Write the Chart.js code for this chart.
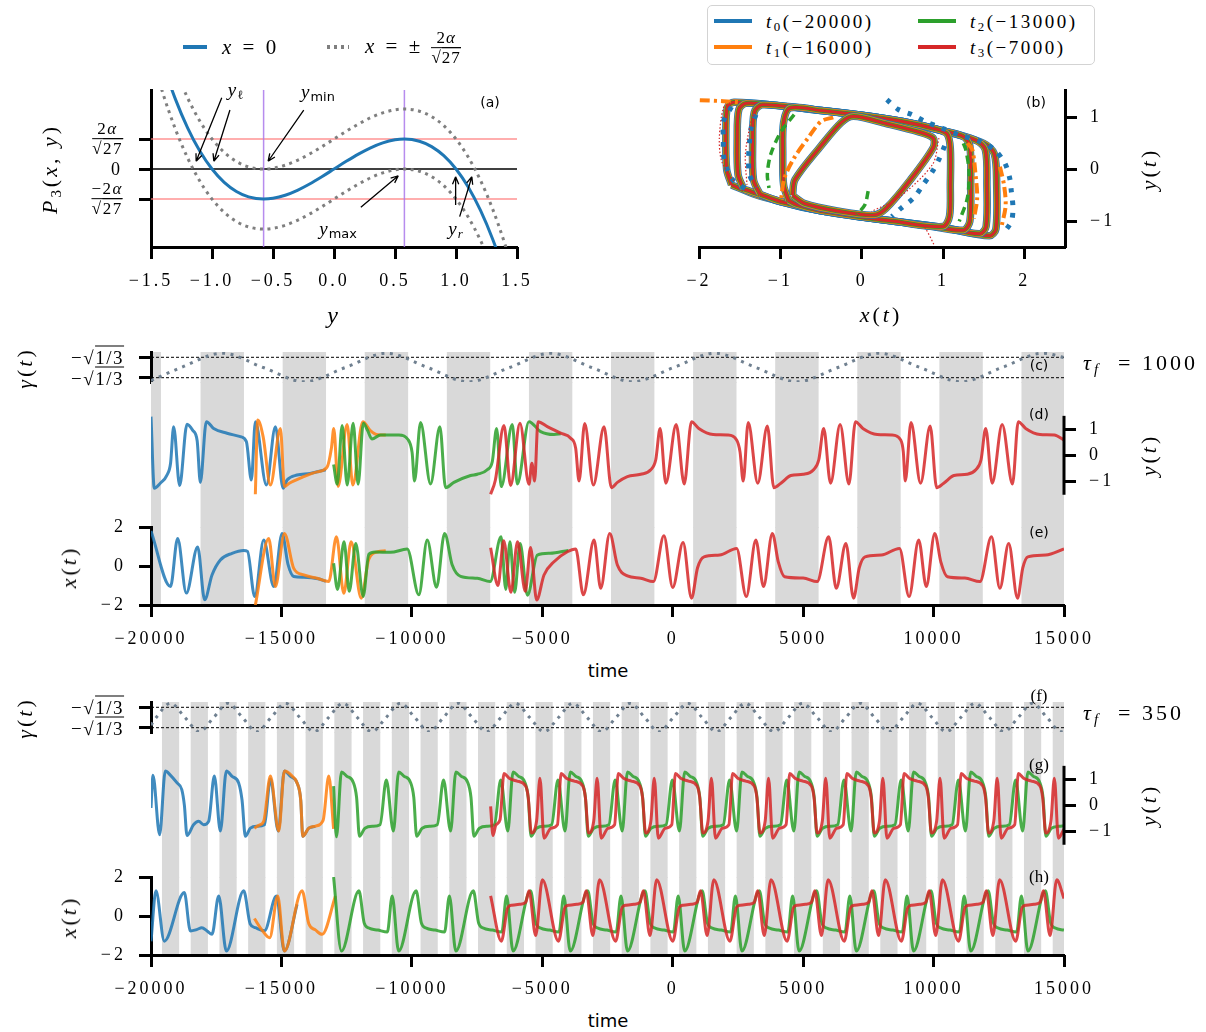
<!DOCTYPE html>
<html>
<head>
<meta charset="utf-8">
<script src="https://cdn.jsdelivr.net/npm/chart.js@4.4.1/dist/chart.umd.min.js"></script>
<style>
  html, body { margin: 0; padding: 0; background: #fff; }
  #fig { position: relative; width: 1206px; height: 1032px; overflow: hidden; font-family: 'DejaVu Sans', sans-serif; }
  #fig canvas { position: absolute; }
  .lbl { position: absolute; white-space: nowrap; line-height: 1; color: #000; }
  .serif { font-family: 'Liberation Serif', 'DejaVu Serif', serif; letter-spacing: 3px; }
  .math { font-family: 'Liberation Serif', 'DejaVu Serif', serif; font-size: 22px; letter-spacing: 3px; }
  .sans { font-family: 'DejaVu Sans', sans-serif; font-size: 14px; }
  .rot { transform: translate(-50%, -50%) rotate(-90deg); }
  .ctr { transform: translate(-50%, -50%); }
  .rgt { transform: translate(-100%, -50%); }
  .lft { transform: translate(0, -50%); }
  .frac { display: inline-flex; flex-direction: column; align-items: center; vertical-align: middle; line-height: 1.05; }
  .frac .den { border-top: 1.3px solid #000; padding-top: 1px; }
  .ovl { border-top: 1.2px solid #000; }
  sub { font-size: 68%; vertical-align: -0.3em; line-height: 0; }
  .legbox { position: absolute; border: 1.5px solid #d3d3d3; border-radius: 5px; background: #fff; }
  .swatch { position: absolute; height: 3.5px; }
  .tick { position: absolute; width: 3px; height: 12px; background: #000; }
</style>
</head>
<body>
<div id="fig"></div>
<script>
// ---------- panel (a): P3(x, y) against y ----------
const aY      = [-1.5,-1.4,-1.3,-1.2,-1.1,-1.0,-0.9,-0.8,-0.7,-0.577,-0.5,-0.4,-0.3,-0.2,-0.1,0,0.1,0.2,0.3,0.4,0.5,0.577,0.7,0.8,0.9,1.0,1.1,1.2,1.3,1.4,1.5];
const aP0     = [1.875,1.344,0.897,0.528,0.231,0,-0.171,-0.288,-0.357,-0.385,-0.375,-0.336,-0.273,-0.192,-0.099,0,0.099,0.192,0.273,0.336,0.375,0.385,0.357,0.288,0.171,0,-0.231,-0.528,-0.897,-1.344,-1.875];
const aPplus  = [2.26,1.729,1.282,0.913,0.616,0.385,0.214,0.097,0.028,0,0.01,0.049,0.112,0.193,0.286,0.385,0.484,0.577,0.658,0.721,0.76,0.77,0.742,0.673,0.556,0.385,0.154,-0.143,-0.512,-0.959,-1.49];
const aPminus = [1.49,0.959,0.512,0.143,-0.154,-0.385,-0.556,-0.673,-0.742,-0.77,-0.76,-0.721,-0.658,-0.577,-0.484,-0.385,-0.286,-0.193,-0.112,-0.049,-0.01,0,-0.028,-0.097,-0.214,-0.385,-0.616,-0.913,-1.282,-1.729,-2.26];
const aLevels = [-0.385, 0.385];
const aExtrema = [-0.577, 0.577];
const aXTicks = [-1.5,-1,-0.5,0,0.5,1,1.5];
const aYTicks = [-0.385, 0, 0.385];
const aArrows = [[-0.92,0.915,-1.13,0.10],[-0.853,0.757,-0.985,0.10],[-0.248,0.757,-0.54,0.10],[0.22,-0.49,0.527,-0.086],[0.997,-0.46,0.997,-0.099],[1.03,-0.61,1.13,-0.099]];

// ---------- panel (b): phase plane ----------
const bLoop1 = [[-0.85,-0.5],[-0.82,-0.2],[-0.5,0.45],[-0.25,0.9],[-0.1,1.02],[0.3,0.88],[0.7,0.72],[0.88,0.6],[0.88,0.42],[0.6,-0.2],[0.3,-0.75],[0.15,-0.88],[-0.3,-0.8],[-0.7,-0.66],[-0.85,-0.5]];
const bLoop2 = [[-0.9,-0.6],[-0.96,-0.3],[-0.97,0.3],[-0.96,0.9],[-0.88,1.18],[-0.5,1.13],[0,1.04],[0.5,0.92],[0.9,0.78],[1.05,0.68],[1.09,0.4],[1.09,-0.3],[1.08,-0.9],[1.0,-1.1],[0.4,-1.0],[0,-0.92],[-0.5,-0.8],[-0.8,-0.68],[-0.9,-0.6]];
const bLoop3 = [[-1.25,-0.48],[-1.33,-0.2],[-1.34,0.5],[-1.32,1.1],[-1.22,1.24],[-0.5,1.13],[0,1.04],[0.5,0.92],[1.0,0.74],[1.25,0.63],[1.33,0.45],[1.34,-0.3],[1.33,-1.0],[1.25,-1.17],[0.8,-1.08],[0,-0.92],[-0.5,-0.8],[-1.0,-0.62],[-1.25,-0.48]];
const bLoop4 = [[-1.45,-0.38],[-1.52,-0.1],[-1.53,0.6],[-1.51,1.15],[-1.42,1.27],[-1.0,1.22],[-0.5,1.13],[0,1.04],[0.5,0.92],[1.0,0.74],[1.4,0.56],[1.52,0.38],[1.54,-0.3],[1.53,-1.1],[1.45,-1.24],[1.0,-1.12],[0.4,-1.0],[-0.5,-0.8],[-1.0,-0.62],[-1.45,-0.38]];
const bLoop5 = [[-1.6,-0.3],[-1.66,0.0],[-1.67,0.7],[-1.65,1.2],[-1.57,1.29],[-1.0,1.22],[0,1.04],[0.5,0.92],[1.0,0.74],[1.5,0.5],[1.63,0.3],[1.66,-0.3],[1.65,-1.15],[1.57,-1.28],[1.0,-1.12],[0.4,-1.0],[-0.5,-0.8],[-1.0,-0.62],[-1.3,-0.49],[-1.6,-0.3]];
const bBlueA = [[0.31,1.34],[0.45,1.15],[0.62,1.05],[0.78,0.92],[0.99,0.79],[1.2,0.66],[1.45,0.54],[1.63,0.38],[1.76,0.12],[1.82,-0.17],[1.84,-0.42],[1.86,-0.74],[1.84,-1.0],[1.73,-1.26]];
const bBlueB = [[1.02,0.45],[0.95,0.19],[0.87,-0.04],[0.74,-0.33],[0.64,-0.55],[0.49,-0.74],[0.37,-0.91]];
const bBlueC = [[-1.6,1.2],[-1.7,0.92],[-1.7,0.6],[-1.7,0.28],[-1.66,0.02],[-1.57,-0.23],[-1.4,-0.4]];
const bBlueD = [[-1.3,1.05],[-1.36,0.79],[-1.38,0.5],[-1.39,0.2],[-1.38,-0.1],[-1.3,-0.35]];
const bOrangeA = [[-1.99,1.33],[-1.7,1.31],[-1.5,1.29]];
const bOrangeB = [[-0.35,1.0],[-0.5,0.92],[-0.66,0.6],[-0.83,0.22],[-0.95,-0.17],[-0.99,-0.56]];
const bOrangeC = [[1.3,0.5],[1.36,0.38],[1.4,-0.1],[1.42,-0.56],[1.38,-0.95]];
const bOrangeD = [[1.7,0.05],[1.75,-0.3],[1.77,-0.7],[1.72,-1.1]];
const bGreenA = [[-0.83,1.05],[-0.99,0.73],[-1.12,0.28],[-1.16,-0.1],[-1.14,-0.36]];
const bGreenB = [[1.25,0.5],[1.28,0.38],[1.32,-0.04],[1.3,-0.55],[1.2,-1.0]];
const bGreenC = [[0.08,-0.42],[0.04,-0.68],[-0.06,-0.87]];
const bRedA = [[-1.62,1.28],[-1.7,1.18],[-1.75,0.6],[-1.72,0.15],[-1.57,-0.23]];
const bRedB = [[-1.3,1.1],[-1.36,0.92],[-1.43,0.28],[-1.41,-0.3]];
const bRedC = [[0.95,0.6],[0.87,0.09],[0.45,-0.55],[0.12,-0.81]];
const bRedD = [[0.7,-1.05],[0.78,-1.13],[0.89,-1.45]];
const bXTicks = [-2,-1,0,1,2];
const bYTicks = [-1,0,1];

// ---------- time panels ----------
const timeTicks = [-20000,-15000,-10000,-5000,0,5000,10000,15000];
const gammaLevels = [-1, 1];
const yTicks = [-1, 0, 1];
const xTicks = [-2, 0, 2];

// tau_f = 1000
const bands1000 = [[-20000,-19618],[-18100,-16437],[-14953,-13290],[-11806,-10143],[-8659,-6996],[-5512,-3849],[-2365,-702],[782,2445],[3929,5592],[7076,8739],[10223,11886],[13370,15033]];
const gamma1000 = [[-20000,-1.28],[-18842,0],[-17269,1.4],[-15695,0],[-14122,-1.4],[-12548,0],[-10975,1.4],[-9401,0],[-7828,-1.4],[-6254,0],[-4681,1.4],[-3107,0],[-1534,-1.4],[40,0],[1614,1.4],[3187,0],[4761,-1.4],[6334,0],[7908,1.4],[9481,0],[11055,-1.4],[12628,0],[14202,1.4],[15000,0.98]];
const y1000Blue = [[-20000,1.47],[-19874,-1.25],[-19644,-1.06],[-19388,-0.75],[-19250,-0.3],[-19132,1.09],[-18902,-1.15],[-18620,1.18],[-18400,0.95],[-18230,0.55],[-18109,-1.03],[-17879,1.28],[-17597,1.02],[-17085,0.84],[-16574,0.71],[-16344,0.52],[-16152,-0.94],[-15999,1.28],[-15577,-1.13],[-15231,1.09],[-14937,-1.25],[-14783,-0.94],[-14400,-0.75],[-13900,-0.69],[-13300,-0.55]];
const y1000Orange = [[-16000,-1.48],[-15909,1.34],[-15700,0.7],[-15423,-1.13],[-15039,1.02],[-14886,-1.19],[-14700,-1.06],[-14144,-0.81],[-13632,-0.63],[-13250,-0.45],[-13080,0.3],[-12993,1.02],[-12827,-1.19],[-12481,1.17],[-12264,-1.13],[-11880,1.28],[-11600,0.95],[-11300,0.78],[-11000,0.77]];
const y1000Green = [[-13000,-0.35],[-12860,-1.1],[-12673,1.13],[-12480,-1.13],[-12250,1.22],[-12060,-1.1],[-11860,1.22],[-11700,0.95],[-11530,0.62],[-11200,0.77],[-10500,0.77],[-10150,0.6],[-9990,0.1],[-9898,-0.98],[-9667,1.25],[-9284,-1.09],[-8926,1.09],[-8708,-1.23],[-8388,-1.03],[-7749,-0.77],[-7492,-0.72],[-7109,-0.55],[-6917,-0.24],[-6751,1.02],[-6572,-1.19],[-6150,1.17],[-5958,-1.09],[-5510,1.28],[-5062,0.9],[-4551,0.79],[-4295,0.82]];
const y1000Red = [[-6981,-1.48],[-6800,-0.95],[-6469,1.13],[-6214,-1.15],[-5855,1.22],[-5510,-1.1],[-5400,-0.3],[-5293,-0.98],[-5165,1.28],[-4807,1.09],[-4295,0.84],[-3912,0.65],[-3720,0.27],[-3592,-0.98],[-3374,1.21],[-3042,-1.13],[-2633,1.09],[-2351,-1.23],[-2121,-1.03],[-1737,-0.81],[-1226,-0.72],[-842,-0.55],[-650,-0.17],[-484,1.02],[-264,-1.06],[133,1.17],[441,-1.09],[720,1.28],[1000,1.02],[1550,0.79],[2100,0.77],[2450,0.58],[2580,0.13],[2703,-0.98],[2894,1.25],[3261,-1.06],[3628,1.11],[3878,-1.23],[4146,-1.06],[4530,-0.77],[5000,-0.72],[5400,-0.55],[5600,-0.17],[5787,1.02],[6051,-1.06],[6418,1.17],[6756,-1.09],[7005,1.28],[7290,1.02],[7840,0.79],[8390,0.77],[8740,0.58],[8840,0.13],[8915,-0.98],[9135,1.25],[9502,-1.06],[9869,1.11],[10119,-1.23],[10390,-1.06],[10780,-0.77],[11280,-0.72],[11620,-0.55],[11820,-0.17],[11998,1.02],[12248,-1.06],[12630,1.17],[13026,-1.09],[13247,1.28],[13530,1.02],[14080,0.79],[14630,0.77],[15000,0.58]];
const x1000Blue = [[-20000,1.8],[-19252,-1.05],[-18979,1.41],[-18646,-1.39],[-18212,0.98],[-17943,-1.73],[-17661,-0.46],[-17341,0.31],[-16894,0.65],[-16447,0.8],[-16300,0.75],[-16025,-1.57],[-15679,1.33],[-15295,-1.05],[-14975,1.67],[-14750,0.1],[-14528,-0.54],[-14144,-0.58],[-13600,-0.65],[-13300,-0.78]];
const x1000Orange = [[-16000,-2.0],[-15487,1.41],[-15231,-1.05],[-14886,1.67],[-14528,-0.12],[-14144,-0.46],[-13632,-0.63],[-13185,-0.8],[-12891,1.5],[-12609,-1.4],[-12327,1.24],[-11944,-1.65],[-11650,0.35],[-11300,0.73],[-11000,0.78]];
const x1000Green = [[-13000,0.14],[-12850,-1.2],[-12600,1.25],[-12400,-1.3],[-12150,1.15],[-11867,-1.56],[-11650,0.6],[-11400,0.72],[-10819,0.7],[-10179,0.87],[-9731,-1.48],[-9411,1.33],[-9053,-1.09],[-8746,1.67],[-8452,0.05],[-8132,-0.53],[-7492,-0.63],[-7000,-0.8],[-6580,1.5],[-6400,-1.2],[-6240,1.25],[-6060,-1.35],[-5850,1.15],[-5570,-1.5],[-5190,0.56],[-4700,0.65],[-4000,0.8]];
const x1000Red = [[-6981,0.94],[-6700,-1.0],[-6480,1.3],[-6200,-1.35],[-5950,1.25],[-5650,-1.3],[-5450,0.95],[-5216,-1.74],[-4934,-0.46],[-4551,0.22],[-4039,0.73],[-3719,0.87],[-3425,-1.48],[-3016,1.33],[-2760,-1.14],[-2415,1.67],[-2121,0.05],[-1737,-0.51],[-1226,-0.63],[-740,-0.8],[-337,1.55],[0,-1.1],[397,1.2],[720,-1.65],[950,-0.1],[1200,0.47],[1800,0.56],[2450,0.9],[2820,-1.57],[3187,1.33],[3481,-1.05],[3819,1.67],[4050,0.2],[4289,-0.55],[5000,-0.62],[5537,-0.8],[5977,1.5],[6271,-1.14],[6638,1.16],[6932,-1.65],[7150,-0.1],[7373,0.47],[8000,0.56],[8694,0.9],[9061,-1.57],[9429,1.33],[9722,-1.05],[10045,1.67],[10280,0.2],[10530,-0.55],[11200,-0.62],[11778,-0.8],[12219,1.5],[12542,-1.14],[12880,1.16],[13217,-1.65],[13420,-0.1],[13614,0.47],[14300,0.56],[15000,0.87]];

// tau_f = 350
const bands350 = [[-19580,-18920],[-18479,-17819],[-17377,-16717],[-16276,-15616],[-15174,-14514],[-14073,-13413],[-12971,-12311],[-11870,-11210],[-10768,-10108],[-9667,-9007],[-8565,-7905],[-7464,-6804],[-6362,-5702],[-5261,-4601],[-4159,-3499],[-3058,-2398],[-1956,-1296],[-855,-195],[247,907],[1349,2009],[2450,3110],[3552,4212],[4653,5313],[5755,6415],[6856,7516],[7958,8618],[9059,9719],[10161,10821],[11262,11922],[12364,13024],[13465,14125],[14567,15227]];
const gamma350 = [[-20000,-0.75],[-19801,0],[-19250,1.4],[-18699,0],[-18149,-1.4],[-17598,0],[-17047,1.4],[-16496,0],[-15946,-1.4],[-15395,0],[-14844,1.4],[-14294,0],[-13743,-1.4],[-13192,0],[-12641,1.4],[-12091,0],[-11540,-1.4],[-10989,0],[-10438,1.4],[-9888,0],[-9337,-1.4],[-8786,0],[-8235,1.4],[-7685,0],[-7134,-1.4],[-6583,0],[-6032,1.4],[-5482,0],[-4931,-1.4],[-4380,0],[-3829,1.4],[-3279,0],[-2728,-1.4],[-2177,0],[-1626,1.4],[-1076,0],[-525,-1.4],[26,0],[577,1.4],[1128,0],[1678,-1.4],[2229,0],[2780,1.4],[3331,0],[3881,-1.4],[4432,0],[4983,1.4],[5534,0],[6084,-1.4],[6635,0],[7186,1.4],[7737,0],[8287,-1.4],[8838,0],[9389,1.4],[9940,0],[10490,-1.4],[11041,0],[11592,1.4],[12143,0],[12693,-1.4],[13244,0],[13795,1.4],[14346,0],[14896,-1.4],[15000,-1.34]];
const y350Blue = [[-20000,-0.1],[-19925,1.14],[-19670,-1.12],[-19452,1.3],[-19260,1.15],[-19000,0.85],[-18820,0.6],[-18720,0.0],[-18620,-1.15],[-18370,-0.74],[-18173,-0.61],[-17980,-0.74],[-17790,-0.61],[-17572,1.11],[-17341,-0.98],[-17111,1.3],[-16890,1.1],[-16640,0.85],[-16510,0.2],[-16382,-1.18],[-16190,-0.87],[-15934,-0.8],[-15650,-0.74],[-15420,1.0],[-15120,-0.98],[-14886,1.3],[-14650,1.1],[-14400,0.85],[-14260,0.2],[-14182,-1.18],[-13950,-0.87],[-13700,-0.8]];
const y350Orange = [[-16037,-0.87],[-15850,-0.75],[-15680,-0.61],[-15423,1.11],[-15103,-0.98],[-14886,1.3],[-14590,1.11],[-14400,0.85],[-14260,0.2],[-14182,-1.18],[-13950,-0.87],[-13696,-0.79],[-13402,-0.57],[-13185,1.11],[-13000,-0.9]];
const y350Green = [[-13000,0.73],[-12890,-1.2],
  [-12699,1.27],[-12499,1.11],[-12249,0.88],[-12119,0.3],[-12009,-1.18],[-11799,-0.87],[-11499,-0.8],[-11219,-0.74],[-10979,0.96],[-10709,-0.98],
  [-10506,1.27],[-10306,1.11],[-10056,0.88],[-9926,0.3],[-9816,-1.18],[-9606,-0.87],[-9306,-0.8],[-9026,-0.74],[-8786,0.96],[-8516,-0.98],
  [-8313,1.27],[-8113,1.11],[-7863,0.88],[-7733,0.3],[-7623,-1.18],[-7413,-0.87],[-7113,-0.8],[-6833,-0.74],[-6593,0.96],[-6323,-0.98],
  [-6120,1.27],[-5920,1.11],[-5670,0.88],[-5540,0.3],[-5430,-1.18],[-5220,-0.87],[-4920,-0.8],[-4640,-0.74],[-4400,0.96],[-4130,-0.98],
  [-3927,1.27],[-3727,1.11],[-3477,0.88],[-3347,0.3],[-3237,-1.18],[-3027,-0.87],[-2727,-0.8],[-2447,-0.74],[-2207,0.96],[-1937,-0.98],
  [-1734,1.27],[-1534,1.11],[-1284,0.88],[-1154,0.3],[-1044,-1.18],[-834,-0.87],[-534,-0.8],[-254,-0.74],[-14,0.96],[256,-0.98],
  [459,1.27],[659,1.11],[909,0.88],[1039,0.3],[1149,-1.18],[1359,-0.87],[1659,-0.8],[1939,-0.74],[2179,0.96],[2449,-0.98],
  [2652,1.27],[2852,1.11],[3102,0.88],[3232,0.3],[3342,-1.18],[3552,-0.87],[3852,-0.8],[4132,-0.74],[4372,0.96],[4642,-0.98],
  [4845,1.27],[5045,1.11],[5295,0.88],[5425,0.3],[5535,-1.18],[5745,-0.87],[6045,-0.8],[6325,-0.74],[6565,0.96],[6835,-0.98],
  [7038,1.27],[7238,1.11],[7488,0.88],[7618,0.3],[7728,-1.18],[7938,-0.87],[8238,-0.8],[8518,-0.74],[8758,0.96],[9028,-0.98],
  [9231,1.27],[9431,1.11],[9681,0.88],[9811,0.3],[9921,-1.18],[10131,-0.87],[10431,-0.8],[10711,-0.74],[10951,0.96],[11221,-0.98],
  [11424,1.27],[11624,1.11],[11874,0.88],[12004,0.3],[12114,-1.18],[12324,-0.87],[12624,-0.8],[12904,-0.74],[13144,0.96],[13414,-0.98],
  [13617,1.27],[13817,1.11],[14067,0.88],[14197,0.3],[14307,-1.18],[14517,-0.87],[14817,-0.8],[15000,-0.78]];
const y350Red = [[-6981,-0.04],[-6890,-1.15],[-6780,-0.75],[-6620,-0.55],
  [-6469,1.21],[-6269,1.03],[-5969,0.92],[-5639,0.73],[-5539,0.3],[-5419,-1.05],[-5219,-0.6],[-5089,1.03],[-4934,-1.25],[-4669,-0.87],[-4419,-0.74],
  [-4278,1.21],[-4078,1.03],[-3778,0.92],[-3448,0.73],[-3348,0.3],[-3228,-1.05],[-3028,-0.6],[-2898,1.03],[-2743,-1.25],[-2478,-0.87],[-2228,-0.74],
  [-2087,1.21],[-1887,1.03],[-1587,0.92],[-1257,0.73],[-1157,0.3],[-1037,-1.05],[-837,-0.6],[-707,1.03],[-552,-1.25],[-287,-0.87],[-37,-0.74],
  [104,1.21],[304,1.03],[604,0.92],[934,0.73],[1034,0.3],[1154,-1.05],[1354,-0.6],[1484,1.03],[1639,-1.25],[1904,-0.87],[2154,-0.74],
  [2295,1.21],[2495,1.03],[2795,0.92],[3125,0.73],[3225,0.3],[3345,-1.05],[3545,-0.6],[3675,1.03],[3830,-1.25],[4095,-0.87],[4345,-0.74],
  [4486,1.21],[4686,1.03],[4986,0.92],[5316,0.73],[5416,0.3],[5536,-1.05],[5736,-0.6],[5866,1.03],[6021,-1.25],[6286,-0.87],[6536,-0.74],
  [6677,1.21],[6877,1.03],[7177,0.92],[7507,0.73],[7607,0.3],[7727,-1.05],[7927,-0.6],[8057,1.03],[8212,-1.25],[8477,-0.87],[8727,-0.74],
  [8868,1.21],[9068,1.03],[9368,0.92],[9698,0.73],[9798,0.3],[9918,-1.05],[10118,-0.6],[10248,1.03],[10403,-1.25],[10668,-0.87],[10918,-0.74],
  [11059,1.21],[11259,1.03],[11559,0.92],[11889,0.73],[11989,0.3],[12109,-1.05],[12309,-0.6],[12439,1.03],[12594,-1.25],[12859,-0.87],[13109,-0.74],
  [13250,1.21],[13450,1.03],[13750,0.92],[14080,0.73],[14180,0.3],[14300,-1.05],[14500,-0.6],[14630,1.03],[14785,-1.25],[15000,-0.9]];
const x350Blue = [[-20000,-1.3],[-19810,1.29],[-19490,-1.29],[-18723,1.2],[-18490,-0.77],[-18250,-0.7],[-18050,-0.6],[-17850,-0.77],[-17661,-0.94],[-17405,1.03],[-17111,-1.8],[-16446,1.29],[-16200,-0.4],[-16000,-0.6],[-15650,-0.75],[-15193,1.03],[-14886,-1.8],[-14400,0.6]];
const x350Orange = [[-16037,-0.13],[-15750,-0.71],[-15449,-1.11],[-15142,1.03],[-14886,-1.8],[-14208,1.29],[-13950,-0.4],[-13700,-0.71],[-13440,-0.94],[-12929,1.03]];
const x350Green = [[-13000,2.0],
  [-12699,-1.8],[-12029,1.29],[-11829,-0.35],[-11649,-0.62],[-11299,-0.72],[-10939,-0.82],[-10755,1.03],
  [-10506,-1.8],[-9836,1.29],[-9636,-0.35],[-9456,-0.62],[-9106,-0.72],[-8746,-0.82],[-8562,1.03],
  [-8313,-1.8],[-7643,1.29],[-7443,-0.35],[-7263,-0.62],[-6913,-0.72],[-6553,-0.82],[-6369,1.03],
  [-6120,-1.8],[-5450,1.29],[-5250,-0.35],[-5070,-0.62],[-4720,-0.72],[-4360,-0.82],[-4176,1.03],
  [-3927,-1.8],[-3257,1.29],[-3057,-0.35],[-2877,-0.62],[-2527,-0.72],[-2167,-0.82],[-1983,1.03],
  [-1734,-1.8],[-1064,1.29],[-864,-0.35],[-684,-0.62],[-334,-0.72],[26,-0.82],[210,1.03],
  [459,-1.8],[1129,1.29],[1329,-0.35],[1509,-0.62],[1859,-0.72],[2219,-0.82],[2403,1.03],
  [2652,-1.8],[3322,1.29],[3522,-0.35],[3702,-0.62],[4052,-0.72],[4412,-0.82],[4596,1.03],
  [4845,-1.8],[5515,1.29],[5715,-0.35],[5895,-0.62],[6245,-0.72],[6605,-0.82],[6789,1.03],
  [7038,-1.8],[7708,1.29],[7908,-0.35],[8088,-0.62],[8438,-0.72],[8798,-0.82],[8982,1.03],
  [9231,-1.8],[9901,1.29],[10101,-0.35],[10281,-0.62],[10631,-0.72],[10991,-0.82],[11175,1.03],
  [11424,-1.8],[12094,1.29],[12294,-0.35],[12474,-0.62],[12824,-0.72],[13184,-0.82],[13368,1.03],
  [13617,-1.8],[14287,1.29],[14487,-0.35],[14667,-0.62],[15000,-0.72]];
const x350Red = [[-6981,1.03],
  [-6569,-1.29],[-6319,0.45],[-6169,0.55],[-5869,0.6],[-5639,0.7],[-5509,1.29],[-5254,-1.0],[-4998,1.86],
  [-4378,-1.29],[-4128,0.45],[-3978,0.55],[-3678,0.6],[-3448,0.7],[-3318,1.29],[-3063,-1.0],[-2807,1.86],
  [-2187,-1.29],[-1937,0.45],[-1787,0.55],[-1487,0.6],[-1257,0.7],[-1127,1.29],[-872,-1.0],[-616,1.86],
  [4,-1.29],[254,0.45],[404,0.55],[704,0.6],[934,0.7],[1064,1.29],[1319,-1.0],[1575,1.86],
  [2195,-1.29],[2445,0.45],[2595,0.55],[2895,0.6],[3125,0.7],[3255,1.29],[3510,-1.0],[3766,1.86],
  [4386,-1.29],[4636,0.45],[4786,0.55],[5086,0.6],[5316,0.7],[5446,1.29],[5701,-1.0],[5957,1.86],
  [6577,-1.29],[6827,0.45],[6977,0.55],[7277,0.6],[7507,0.7],[7637,1.29],[7892,-1.0],[8148,1.86],
  [8768,-1.29],[9018,0.45],[9168,0.55],[9468,0.6],[9698,0.7],[9828,1.29],[10083,-1.0],[10339,1.86],
  [10959,-1.29],[11209,0.45],[11359,0.55],[11659,0.6],[11889,0.7],[12019,1.29],[12274,-1.0],[12530,1.86],
  [13150,-1.29],[13400,0.45],[13550,0.55],[13850,0.6],[14080,0.7],[14210,1.29],[14465,-1.0],[14721,1.86],[15000,0.9]];

// ---------- helpers ----------
const fig = document.getElementById('fig');
const BLUE = 'rgba(31,119,180,0.85)', ORANGE = 'rgba(255,127,14,0.85)', GREEN = 'rgba(44,160,44,0.85)', RED = 'rgba(214,39,40,0.85)';
const TICK_FONT = {family: "'Liberation Serif', 'DejaVu Serif', serif", size: 18};
const GRID = {display: true, drawOnChartArea: false, drawTicks: true, tickLength: 12, tickWidth: 3, tickColor: '#000'};
const BORDER = {display: true, color: '#000', width: 3};
const minusFmt = v => (v < 0 ? '\u2212' : '') + Math.abs(v);
const oneDec = v => (v < 0 ? '\u2212' : '') + Math.abs(v).toFixed(1);

Chart.register({id: 'spacing', beforeDraw(chart) { chart.ctx.letterSpacing = '3px'; }});

const bandPlugin = {
  id: 'bands',
  beforeDraw(chart, args, opts) {
    if (!opts.ranges) return;
    const {ctx, chartArea: a, scales: {x}} = chart;
    ctx.save();
    ctx.fillStyle = '#d9d9d9';
    opts.ranges.forEach(([s, e]) => {
      const x1 = Math.max(a.left, x.getPixelForValue(s));
      const x2 = Math.min(a.right, x.getPixelForValue(e));
      if (x2 > x1) ctx.fillRect(x1, a.top, x2 - x1, a.bottom - a.top);
    });
    ctx.restore();
  }
};

const spinePlugin = {
  id: 'spine',
  afterDraw(chart, args, opts) {
    if (!opts.axis) return;
    const {ctx, chartArea: a} = chart;
    const s = chart.scales[opts.axis];
    ctx.save();
    ctx.strokeStyle = '#000';
    ctx.lineWidth = 3;
    ctx.beginPath();
    ctx.moveTo(a.right, s.getPixelForValue(opts.from));
    ctx.lineTo(a.right, s.getPixelForValue(opts.to));
    ctx.stroke();
    ctx.restore();
  }
};

const arrowPlugin = {
  id: 'arrows',
  afterDatasetsDraw(chart, args, opts) {
    if (!opts.list) return;
    const {ctx, scales: {x, y}} = chart;
    ctx.save();
    ctx.strokeStyle = '#000';
    ctx.lineWidth = 1.3;
    opts.list.forEach(([x0, y0, x1, y1]) => {
      const p0 = [x.getPixelForValue(x0), y.getPixelForValue(y0)];
      const p1 = [x.getPixelForValue(x1), y.getPixelForValue(y1)];
      const ang = Math.atan2(p1[1] - p0[1], p1[0] - p0[0]);
      ctx.beginPath();
      ctx.moveTo(p0[0], p0[1]);
      ctx.lineTo(p1[0], p1[1]);
      [-0.4, 0.4].forEach(d => {
        ctx.moveTo(p1[0], p1[1]);
        ctx.lineTo(p1[0] - 8 * Math.cos(ang + d), p1[1] - 8 * Math.sin(ang + d));
      });
      ctx.stroke();
    });
    ctx.restore();
  }
};

function addCanvas(left, top, w, h) {
  const c = document.createElement('canvas');
  c.width = w; c.height = h;
  c.style.left = left + 'px'; c.style.top = top + 'px';
  c.style.width = w + 'px'; c.style.height = h + 'px';
  fig.appendChild(c);
  return c;
}

function label(html, x, y, cls, style) {
  const d = document.createElement('div');
  d.className = 'lbl ' + cls;
  d.innerHTML = html;
  d.style.left = x + 'px';
  d.style.top = y + 'px';
  if (style) d.style.cssText += style;
  fig.appendChild(d);
}

// tick marks under an x axis, placed from the chart's own scale
function xTickMarks(chart, left, top) {
  const s = chart.scales.x, a = chart.chartArea;
  s.ticks.forEach(t => {
    const d = document.createElement('div');
    d.className = 'tick';
    d.style.left = (left + s.getPixelForValue(t.value) - 1.5) + 'px';
    d.style.top = (top + a.bottom) + 'px';
    fig.appendChild(d);
  });
}

function line(data, color, width, extra) {
  return Object.assign({
    data: data.map(([x, y]) => ({x, y})),
    borderColor: color, borderWidth: width, pointRadius: 0, fill: false,
    cubicInterpolationMode: 'monotone'
  }, extra || {});
}

function straight(data, color, width, extra) {
  return line(data, color, width, Object.assign({cubicInterpolationMode: 'default', tension: 0}, extra || {}));
}

function xAxis(min, max, ticks, height, fmt) {
  return {
    type: 'linear', position: 'bottom', min, max,
    afterBuildTicks: s => { s.ticks = ticks.map(value => ({value})); },
    afterFit: s => { s.height = height; },
    grid: GRID, border: BORDER,
    ticks: {color: '#000', font: TICK_FONT, padding: 11, maxRotation: 0, autoSkip: false, callback: fmt}
  };
}

function yAxis(pos, min, max, ticks, width, showLabels, border) {
  return {
    type: 'linear', position: pos, min, max,
    afterBuildTicks: s => { s.ticks = ticks.map(value => ({value})); },
    afterFit: s => { s.width = width; },
    grid: GRID, border: border === false ? {display: false} : BORDER,
    ticks: {display: showLabels, color: '#000', font: TICK_FONT, padding: 13, callback: minusFmt}
  };
}

function makeChart(canvas, datasets, scales, padding, plugins, pluginOpts) {
  datasets.forEach((d, i) => { d.order = datasets.length - i; });
  return new Chart(canvas, {
    type: 'line',
    data: {datasets},
    options: {
      responsive: false, animation: false, devicePixelRatio: 1, events: [],
      layout: {padding},
      plugins: Object.assign({legend: {display: false}, tooltip: {enabled: false}}, pluginOpts || {}),
      scales
    },
    plugins: plugins || []
  });
}

// ---------- panel (a) ----------
const zip = (xs, ys) => xs.map((v, i) => [v, ys[i]]);
const chartA = makeChart(addCanvas(0, 55, 560, 252), [
  ...aLevels.map(v => straight([[-1.5, v], [1.5, v]], 'rgba(255,120,120,0.8)', 1.5)),
  straight([[-1.5, 0], [1.5, 0]], '#000', 1.5),
  ...aExtrema.map(v => straight([[v, -1], [v, 1.014]], 'rgba(170,120,235,0.85)', 1.5)),
  line(zip(aY, aPminus), '#7f7f7f', 3, {borderDash: [3, 4.5]}),
  line(zip(aY, aPplus), '#7f7f7f', 3, {borderDash: [3, 4.5]}),
  line(zip(aY, aP0), '#1f77b4', 3)
], {
  x: xAxis(-1.5, 1.5, aXTicks, 60, oneDec),
  y: yAxis('left', -1.0, 1.014, aYTicks, 151, false)
}, {top: 35, right: 43, left: 0, bottom: 0}, [arrowPlugin], {arrows: {list: aArrows}});
xTickMarks(chartA, 0, 55);

// ---------- panel (b) ----------
const loopSets = [];
[bLoop5, bLoop4, bLoop3, bLoop2, bLoop1].forEach(L => {
  loopSets.push(line(L, '#1f77b4', 7.5, {cubicInterpolationMode: 'default', tension: 0.3}));
  loopSets.push(line(L, '#ff7f0e', 6, {cubicInterpolationMode: 'default', tension: 0.3}));
  loopSets.push(line(L, '#2ca02c', 4.5, {cubicInterpolationMode: 'default', tension: 0.3}));
  loopSets.push(line(L, '#d62728', 3, {cubicInterpolationMode: 'default', tension: 0.3}));
});
const trans = (L, color, w, dash) => line(L, color, w, {cubicInterpolationMode: 'default', tension: 0.3, borderDash: dash});
const chartB = makeChart(addCanvas(600, 55, 606, 252), [
  ...loopSets,
  ...[bBlueA, bBlueB, bBlueC, bBlueD].map(L => trans(L, '#1f77b4', 5, [4.5, 8])),
  ...[bOrangeA, bOrangeB, bOrangeC, bOrangeD].map(L => trans(L, '#ff7f0e', 4, [10, 4, 3, 4])),
  ...[bGreenA, bGreenB, bGreenC].map(L => trans(L, '#2ca02c', 3.5, [8, 5])),
  ...[bRedA, bRedB, bRedC, bRedD].map(L => trans(L, '#d62728', 1.2, [1.5, 2]))
], {
  x: xAxis(-2, 2.5, bXTicks, 60, minusFmt),
  y: yAxis('right', -1.494, 1.525, bYTicks, 141, true)
}, {top: 35, left: 99, right: 0, bottom: 0});
xTickMarks(chartB, 600, 55);

// ---------- time panels ----------
function timeGroup(G, bands, gamma, ySets, xSets) {
  const xHidden = {type: 'linear', min: -20000, max: 15000, display: false};
  // gamma strip: plot area 352..383
  makeChart(addCanvas(0, 340 + G, 1206, 49), [
    ...gammaLevels.map(v => straight([[-20000, v], [15000, v]], '#000', 1, {borderDash: [3, 2]})),
    line(gamma, '#708090', 3, {borderDash: [3, 5.5]})
  ], {
    x: xHidden,
    y: yAxis('left', -1.52, 1.52, gammaLevels, 151, false)
  }, {top: 12, bottom: 6, left: 0, right: 142}, [bandPlugin], {bands: {ranges: bands}});
  // y(t): plot area 382..528 (covers the gaps), spine only over -1.5..1.5
  makeChart(addCanvas(0, 352 + G, 1206, 206),
    ySets.map(([d, c]) => line(d, c, 3)), {
    x: xHidden,
    y: yAxis('right', -2.764, 2.787, yTicks, 142, true, false)
  }, {top: 30, bottom: 30, left: 151, right: 0}, [bandPlugin, spinePlugin],
    {bands: {ranges: bands}, spine: {axis: 'y', from: 1.5, to: -1.5}});
  // x(t): plot area 527..605
  const cx = makeChart(addCanvas(0, 497 + G, 1206, 156),
    xSets.map(([d, c]) => line(d, c, 3)), {
    x: xAxis(-20000, 15000, timeTicks, 48, minusFmt),
    y: yAxis('left', -2, 2, xTicks, 151, true)
  }, {top: 30, bottom: 0, left: 0, right: 142}, [bandPlugin], {bands: {ranges: bands}});
  xTickMarks(cx, 0, 497 + G);

  const sq = '\u2212\u221A<span class="ovl">1/3</span>';
  label(sq, 124, 357.3 + G, 'serif rgt', 'font-size:19px;letter-spacing:1.5px');
  label(sq, 124, 377.7 + G, 'serif rgt', 'font-size:19px;letter-spacing:1.5px');
  label('<i>γ</i>(<i>t</i>)', 25, 368 + G, 'math rot');
  label('<i>y</i>(<i>t</i>)', 1149, 455 + G, 'math rot');
  label('<i>x</i>(<i>t</i>)', 69, 567 + G, 'math rot');
  label('time', 608, 671 + G, 'ctr', 'font-size:18px');
}

timeGroup(0, bands1000, gamma1000,
  [[y1000Blue, BLUE], [y1000Orange, ORANGE], [y1000Green, GREEN], [y1000Red, RED]],
  [[x1000Blue, BLUE], [x1000Orange, ORANGE], [x1000Green, GREEN], [x1000Red, RED]]);
timeGroup(350, bands350, gamma350,
  [[y350Blue, BLUE], [y350Orange, ORANGE], [y350Green, GREEN], [y350Red, RED]],
  [[x350Blue, BLUE], [x350Orange, ORANGE], [x350Green, GREEN], [x350Red, RED]]);

// ---------- panel texts ----------
label('(c)', 1039, 365, 'sans ctr');
label('(d)', 1039, 414, 'sans ctr');
label('(e)', 1039, 532, 'sans ctr');
label('(f)', 1039, 695, 'serif ctr', 'font-size:17px;letter-spacing:0');
label('(g)', 1039, 764, 'serif ctr', 'font-size:17px;letter-spacing:0');
label('(h)', 1039, 876, 'serif ctr', 'font-size:17px;letter-spacing:0');
label('<i>τ</i><sub><i>f</i></sub> &nbsp;= 1000', 1083, 363, 'math lft');
label('<i>τ</i><sub><i>f</i></sub> &nbsp;= 350', 1083, 713, 'math lft');

// panel (a) texts
const frac = num => `<span class="frac"><span>${num}</span><span class="den">\u221A<span class="ovl">27</span></span></span>`;
label(frac('2<i>α</i>'), 123, 139, 'serif rgt', 'font-size:17px;letter-spacing:1.5px');
label('0', 123, 169, 'serif rgt', 'font-size:18px');
label(frac('\u22122<i>α</i>'), 123, 199, 'serif rgt', 'font-size:17px;letter-spacing:1.5px');
label('<i>P</i><sub>3</sub>(<i>x</i>, <i>y</i>)', 50, 169, 'math rot');
label('<i>y</i>', 334, 315, 'math ctr', 'font-size:24px');
label('(a)', 490, 102, 'sans ctr');
label('<i>y</i><sub style="font-style:normal">ℓ</sub>', 236, 89, 'math ctr', 'font-size:19px;letter-spacing:1px');
label('<i>y</i><sub style="font-family:DejaVu Sans;letter-spacing:0">min</sub>', 318, 91, 'math ctr', 'font-size:19px;letter-spacing:1px');
label('<i>y</i><sub style="font-family:DejaVu Sans;letter-spacing:0">max</sub>', 338, 228, 'math ctr', 'font-size:19px;letter-spacing:1px');
label('<i>y</i><sub><i>r</i></sub>', 456, 228, 'math ctr', 'font-size:19px;letter-spacing:1px');

// legend (a)
const sw = (x, y, w, bg) => { const d = document.createElement('div'); d.className = 'swatch'; d.style.cssText = `left:${x}px;top:${y}px;width:${w}px;background:${bg}`; fig.appendChild(d); };
sw(183, 45, 24, '#1f77b4');
label('<i>x</i> = 0', 222, 47, 'math lft', 'font-size:21px');
sw(327, 45, 22, 'repeating-linear-gradient(90deg,#7f7f7f 0 3px,transparent 3px 7px)');
label('<i>x</i> = ± ' + `<span class="frac" style="font-size:17px;letter-spacing:1px"><span>2<i>α</i></span><span class="den">\u221A<span class="ovl">27</span></span></span>`, 365, 48, 'math lft', 'font-size:21px');

// panel (b) texts
label('(b)', 1036, 102, 'sans ctr');
label('<i>x</i>(<i>t</i>)', 881, 315, 'math ctr');
label('<i>y</i>(<i>t</i>)', 1149, 169, 'math rot');

// legend (b)
const lb = document.createElement('div');
lb.className = 'legbox';
lb.style.cssText = 'left:707px;top:5px;width:386px;height:58px';
fig.appendChild(lb);
sw(714, 19, 38, '#1f77b4');
sw(714, 45, 38, '#ff7f0e');
sw(918, 19, 38, '#2ca02c');
sw(918, 45, 38, '#d62728');
label('<i>t</i><sub>0</sub>(\u221220000)', 766, 21, 'math lft', 'font-size:19px;letter-spacing:2.5px');
label('<i>t</i><sub>1</sub>(\u221216000)', 766, 47, 'math lft', 'font-size:19px;letter-spacing:2.5px');
label('<i>t</i><sub>2</sub>(\u221213000)', 970, 21, 'math lft', 'font-size:19px;letter-spacing:2.5px');
label('<i>t</i><sub>3</sub>(\u22127000)', 970, 47, 'math lft', 'font-size:19px;letter-spacing:2.5px');
</script>
</body>
</html>
